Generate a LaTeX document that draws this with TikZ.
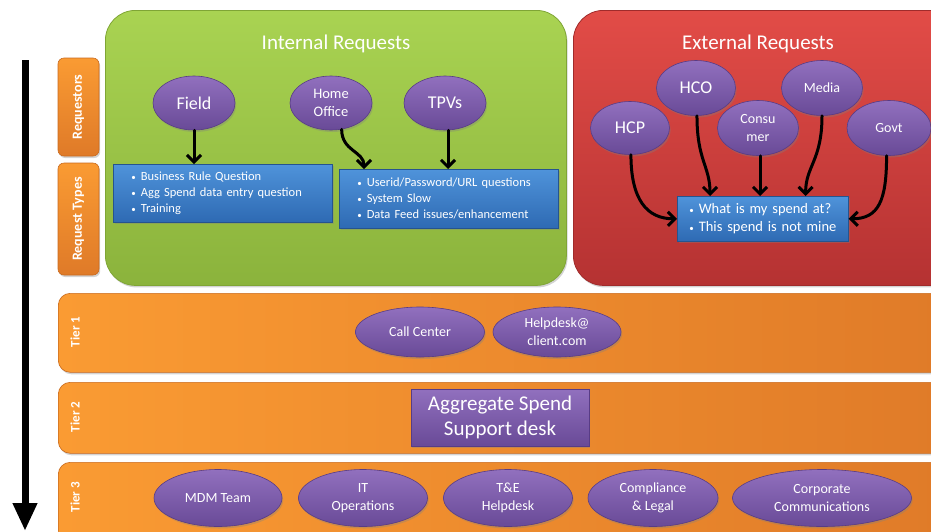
\documentclass[tikz,border=0pt]{standalone}
\usepackage{fontspec}
\setmainfont{Carlito}
\usetikzlibrary{shapes.geometric,arrows.meta,shadows}

\definecolor{greentop}{HTML}{A9D352}
\definecolor{greenbot}{HTML}{8BB33C}
\definecolor{greenedge}{HTML}{7FA535}
\definecolor{redtop}{HTML}{E24C47}
\definecolor{redbot}{HTML}{B53232}
\definecolor{rededge}{HTML}{A02B2B}
\definecolor{orleft}{HTML}{FA9B33}
\definecolor{orright}{HTML}{DF7A28}
\definecolor{oredge}{HTML}{C96A1E}
\definecolor{purptop}{HTML}{9170BE}
\definecolor{purpbot}{HTML}{694A97}
\definecolor{purpedge}{HTML}{583C86}
\definecolor{bluetop}{HTML}{4F93DA}
\definecolor{bluebot}{HTML}{2E6AB3}
\definecolor{blueedge}{HTML}{25548F}

\newcommand\bul{{\fontsize{9}{9}\selectfont\textbullet}\hspace{5pt}}

\tikzset{
  fsz/.style={font=\fontsize{#1}{20}\selectfont},
  softshadow/.style={drop shadow={opacity=0.35, shadow xshift=1.2pt, shadow yshift=-2pt}},
  panel/.style={rectangle, rounded corners=30pt, line width=0.8pt, anchor=north west,
    inner sep=0pt, softshadow},
  greenpanel/.style={panel, draw=greenedge, top color=greentop, bottom color=greenbot},
  redpanel/.style={panel, draw=rededge, top color=redtop, bottom color=redbot},
  title/.style={text=white, font=\fontsize{21}{25}\selectfont},
  sidelab/.style={rectangle, rounded corners=6pt, draw=oredge, line width=0.6pt,
    top color=orleft, bottom color=orright, rotate=90, inner sep=0pt,
    minimum height=41pt, text=white, font=\bfseries\fontsize{14}{16}\selectfont, softshadow},
  tierrow/.style={rectangle, rounded corners=12pt, draw=oredge, line width=0.6pt,
    left color=orleft, right color=orright, anchor=north west, inner sep=0pt,
    minimum width=910pt, softshadow},
  tierlab/.style={rotate=90, text=white, font=\bfseries\fontsize{13}{15}\selectfont},
  purp/.style={ellipse, draw=purpedge, line width=0.6pt, top color=purptop,
    bottom color=purpbot, text=white, inner sep=0pt, align=center, softshadow},
  bluebox/.style={rectangle, draw=blueedge, line width=0.6pt, top color=bluetop,
    bottom color=bluebot, text=white, anchor=north west, align=left, inner xsep=0pt,
    inner ysep=0pt, softshadow},
  purpbox/.style={rectangle, draw=purpedge, line width=0.6pt, top color=purptop,
    bottom color=purpbot, text=white, inner sep=0pt, align=center, softshadow},
  conn/.style={line width=3pt, line cap=round, -{Straight Barb[length=7pt,width=14pt]}},
}

\begin{document}
\begin{tikzpicture}[x=1pt,y=1pt]
\useasboundingbox (0,0) rectangle (931,-531);
\clip (0,0) rectangle (931,-531);

% flow direction arrow
\coordinate (flowtop) at (25,-60);
\coordinate (flowend) at (25,-531);
\draw[line width=7pt, -{Triangle[length=28pt,width=23pt]}] (flowtop) -- (flowend);

% side labels
\node[sidelab, minimum width=98pt] (requestors) at (78.5,-107) {Requestors};
\node[sidelab, minimum width=112pt] (reqtypes) at (78.5,-219) {Request Types};

% internal requests panel
\node[greenpanel, minimum width=461pt, minimum height=275pt] (intpanel) at (105,-10) {};
\node[title] (inttitle) at (336,-44) {Internal Requests};

\node[purp, minimum width=82pt, minimum height=54pt, fsz=18] (field) at (194,-103) {Field};
\node[purp, minimum width=82pt, minimum height=54pt, font=\fontsize{14.5}{17.5}\selectfont] (home) at (331,-103) {Home\\Office};
\node[purp, minimum width=82pt, minimum height=54pt, fsz=18] (tpv) at (445,-103) {TPVs};

\node[bluebox, minimum width=219pt, minimum height=58pt, text width=207pt,
      font=\fontsize{12.5}{16}\selectfont] (intlist1) at (113,-164)
  {\hspace{12pt}\bul Business Rule Question\\\hspace{12pt}\bul Agg Spend data entry question\\\hspace{12pt}\bul Training};
\node[bluebox, minimum width=219pt, minimum height=59pt, text width=207pt,
      font=\fontsize{12.5}{16}\selectfont] (intlist2) at (339,-169)
  {\hspace{12pt}\bul Userid/Password/URL questions\\\hspace{12pt}\bul System Slow\\\hspace{12pt}\bul Data Feed issues/enhancement};

\draw[conn] (field.south) -- (field.south |- intlist1.north);
\draw[conn] (home.-68) .. controls +(0,-22) and +(0,18) .. ([xshift=25pt]intlist2.north west);
\draw[conn] ([xshift=3pt]tpv.south) -- ([xshift=3pt]tpv.south |- intlist2.north);

% external requests panel
\node[redpanel, minimum width=400pt, minimum height=275pt] (extpanel) at (573,-10) {};
\node[title] (exttitle) at (758,-44) {External Requests};

\node[purp, minimum width=79pt, minimum height=53pt, fsz=18] (hcp) at (630,-128) {HCP};
\node[purp, minimum width=79pt, minimum height=55pt, fsz=18] (hco) at (696,-88) {HCO};
\node[purp, minimum width=81pt, minimum height=55pt, font=\fontsize{14}{18}\selectfont] (cons) at (758,-128) {Consu\\mer};
\node[purp, minimum width=81pt, minimum height=55pt, fsz=14] (media) at (822,-88) {Media};
\node[purp, minimum width=84pt, minimum height=55pt, fsz=14] (govt) at (889,-128) {Govt};

\node[bluebox, minimum width=171pt, minimum height=45pt, text width=171pt,
      font=\fontsize{14.5}{18.5}\selectfont] (extlist) at (677,-196)
  {\hspace{12pt}\bul What is my spend at?\\\hspace{12pt}\bul This spend is not mine};

\draw[conn] (hcp.-88) .. controls +(0,-45) and +(-30,0) .. (extlist.west);
\draw[conn] (hco.-88) .. controls +(0,-45) and +(0,30) .. ([xshift=33pt]extlist.north west);
\draw[conn] ([xshift=2pt]cons.south) -- ([xshift=2pt]cons.south |- extlist.north);
\draw[conn] (media.-90) .. controls +(0,-45) and +(0,30) .. ([xshift=-43pt]extlist.north east);
\draw[conn] (govt.-95) .. controls +(0,-45) and +(30,0) .. (extlist.east);

% tier 1
\node[tierrow, minimum height=79pt] (tier1) at (58,-293) {};
\node[tierlab] (tier1lab) at (75,-332) {Tier 1};
\node[purp, minimum width=129pt, minimum height=50pt, fsz=14] (callcenter) at (420,-332) {Call Center};
\node[purp, minimum width=128pt, minimum height=50pt, font=\fontsize{14}{18}\selectfont] (helpdesk) at (557,-332) {Helpdesk@\\client.com};

% tier 2
\node[tierrow, minimum height=71pt] (tier2) at (58,-382) {};
\node[tierlab] (tier2lab) at (75,-417) {Tier 2};
\node[purpbox, minimum width=178pt, minimum height=57pt, font=\fontsize{21}{25}\selectfont] (aggdesk) at (500,-417.5) {Aggregate Spend\\Support desk};

% tier 3
\node[tierrow, minimum height=85pt] (tier3) at (58,-462) {};
\node[tierlab] (tier3lab) at (75,-497) {Tier 3};
\node[purp, minimum width=128pt, minimum height=57pt, fsz=14] (mdm) at (218,-498) {MDM Team};
\node[purp, minimum width=129pt, minimum height=57pt, font=\fontsize{14}{18}\selectfont] (itops) at (363,-498) {IT\\Operations};
\node[purp, minimum width=129pt, minimum height=57pt, font=\fontsize{14}{18}\selectfont] (tne) at (508,-498) {T\&E\\Helpdesk};
\node[purp, minimum width=130pt, minimum height=57pt, font=\fontsize{14}{18}\selectfont] (legal) at (653,-498) {Compliance\\\& Legal};
\node[purp, minimum width=179pt, minimum height=57pt, font=\fontsize{14}{18}\selectfont] (corpcomm) at (822,-498) {Corporate\\Communications};

\end{tikzpicture}
\end{document}
